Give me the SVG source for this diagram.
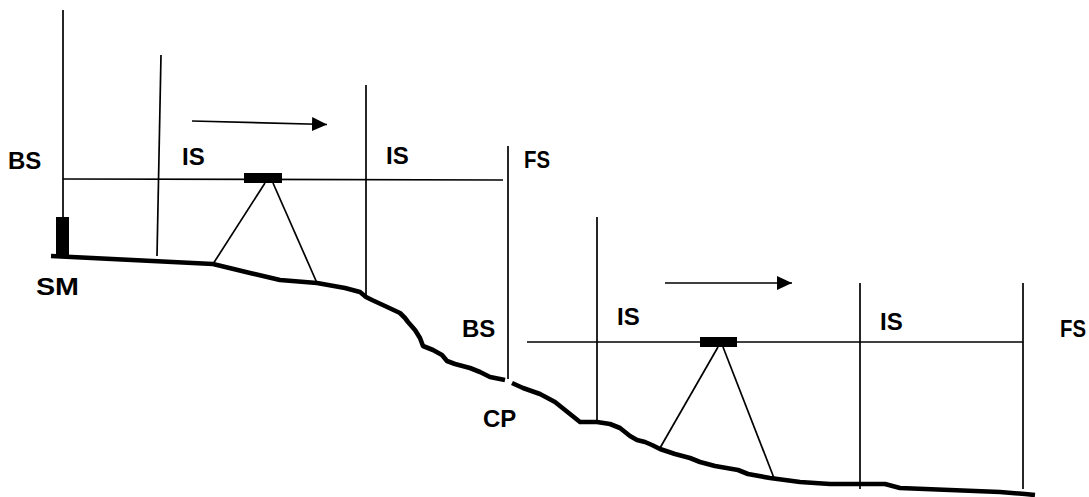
<svg xmlns="http://www.w3.org/2000/svg" width="1089" height="497" viewBox="0 0 1089 497">
  <style>
    .staff { stroke: #000; stroke-width: 1.7; fill: none; }
    .sight { stroke: #000; stroke-width: 1.7; fill: none; }
    .leg { stroke: #000; stroke-width: 1.7; fill: none; }
    .ground { stroke: #000; stroke-width: 4.6; fill: none; stroke-linejoin: round; stroke-linecap: butt; }
    .block { fill: #000; }
    .lbl { font-family: "Liberation Sans", Arial, sans-serif; font-weight: bold; font-size: 24px; fill: #000; }
    .dir { stroke: #000; stroke-width: 1.7; fill: none; }
  </style>
  <defs>
    <marker id="head" markerUnits="userSpaceOnUse" markerWidth="16" markerHeight="16" refX="15" refY="7" orient="auto">
      <path d="M0,0 L15,7 L0,14 Z" fill="#000"/>
    </marker>
  </defs>

  <rect width="1089" height="497" fill="#fff"/>

  <!-- ground profile, broken at the change point -->
  <g id="ground">
    <path class="ground" d="M51,256 L213,264 L250,273 L280,280 L317,283 L345,288 L360,292 L366,297 L372,300 L385,306 L400,313 L405,318 L408,322 L415,330 L420,338 L423,346 L433,350 L442,355 L447,361 L455,364 L470,368 L480,372 L490,377 L505,380"/>
    <path class="ground" d="M512,383 L523,388 L540,394 L555,402 L565,410 L575,418 L580,422 L597,422 L610,424 L620,428 L625,432 L630,436 L637,440 L645,442 L652,445 L660,449 L675,454 L690,458 L700,462 L715,466 L738,470 L748,474 L770,478 L800,482 L830,484 L860,484 L885,484 L900,488 L950,490 L1000,492 L1025,494 L1035,495"/>
  </g>

  <!-- first setup -->
  <g id="staff-bs1">
    <line class="staff" x1="63" y1="10" x2="63" y2="218"/>
    <rect class="block" x="56" y="217" width="13" height="39"/>
  </g>
  <g id="staff-is1"><line class="staff" x1="161" y1="55" x2="157" y2="256"/></g>
  <g id="staff-is2"><line class="staff" x1="366" y1="85" x2="366" y2="296"/></g>
  <g id="staff-cp"><line class="staff" x1="508" y1="146" x2="508" y2="379"/></g>
  <line id="sight1" class="sight" x1="63" y1="179" x2="503" y2="180"/>
  <g id="level1">
    <rect class="block" x="244" y="173" width="38" height="10"/>
    <line class="leg" x1="265" y1="183" x2="213" y2="264"/>
    <line class="leg" x1="273" y1="183" x2="317" y2="283"/>
  </g>

  <!-- second setup -->
  <g id="staff-is3"><line class="staff" x1="597" y1="217" x2="597" y2="421"/></g>
  <g id="staff-is4"><line class="staff" x1="860" y1="283" x2="860" y2="489"/></g>
  <g id="staff-fs2"><line class="staff" x1="1023" y1="283" x2="1023" y2="489"/></g>
  <line id="sight2" class="sight" x1="527" y1="342" x2="1023" y2="342"/>
  <g id="level2">
    <rect class="block" x="700" y="337" width="37" height="10"/>
    <line class="leg" x1="718" y1="347" x2="660" y2="448"/>
    <line class="leg" x1="723" y1="347" x2="774" y2="478"/>
  </g>

  <!-- labels -->
  <g id="labels">
    <text class="lbl" x="8" y="169">BS</text>
    <text class="lbl" x="182" y="165">IS</text>
    <text class="lbl" x="386" y="164">IS</text>
    <text class="lbl" x="524" y="168" textLength="26" lengthAdjust="spacingAndGlyphs">FS</text>
    <text class="lbl" x="36" y="295" textLength="43" lengthAdjust="spacingAndGlyphs">SM</text>
    <text class="lbl" x="462" y="337">BS</text>
    <text class="lbl" x="483" y="427">CP</text>
    <text class="lbl" x="617" y="325">IS</text>
    <text class="lbl" x="880" y="330">IS</text>
    <text class="lbl" x="1060" y="337" textLength="26" lengthAdjust="spacingAndGlyphs">FS</text>
  </g>

  <!-- direction of progress -->
  <g id="connectors">
    <line class="dir" x1="192" y1="121" x2="327" y2="124.5" marker-end="url(#head)"/>
    <line class="dir" x1="665" y1="283" x2="792" y2="283" marker-end="url(#head)"/>
  </g>
</svg>
